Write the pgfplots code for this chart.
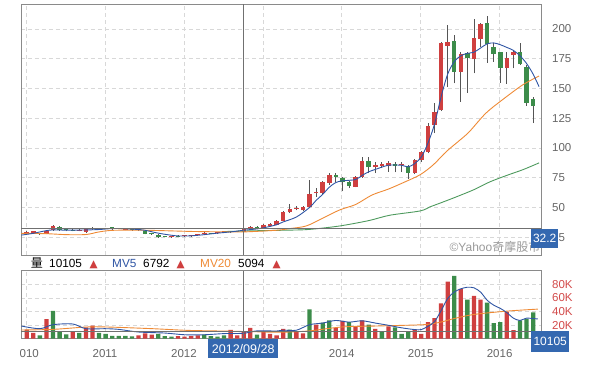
\documentclass[border=0pt]{standalone}
\usepackage{pgfplots}
\pgfplotsset{compat=1.18}
\usepackage{pgfplotstable}
\usepackage{fontspec}
\setmainfont{Liberation Sans}
\newfontfamily\cjk{Noto Sans CJK TC}
\newfontfamily\sym{DejaVu Sans}
\definecolor{upred}{HTML}{CF3F3F}
\definecolor{dngreen}{HTML}{3C8C4A}
\definecolor{wickc}{HTML}{555555}
\definecolor{mablue}{HTML}{2F55A4}
\definecolor{maorange}{HTML}{EE8A35}
\definecolor{magreen}{HTML}{4E9A5E}
\definecolor{gridc}{HTML}{D8D8D8}
\definecolor{framec}{HTML}{8A8A8A}
\definecolor{tickc}{HTML}{666666}
\definecolor{voltick}{HTML}{D24A4A}
\definecolor{boxblue}{HTML}{3468B0}
\definecolor{crossc}{HTML}{707070}

% monthly candles, red = up (close > open)
\pgfplotstableread{
i o h l c
0 28.6 30.0 28.0 29.4
1 28.5 30.5 28.0 30.0
3 27.8 31.0 27.5 30.5
4 31.0 35.0 30.5 34.2
8 30.5 31.8 30.0 30.9
9 29.4 32.5 29.0 32.0
10 31.7 33.5 31.0 32.3
11 31.8 32.6 31.2 32.1
12 32.2 33.0 31.8 32.5
14 32.3 33.0 31.8 32.6
15 31.0 32.5 30.8 32.0
22 24.8 26.3 24.5 25.8
24 25.9 27.0 25.0 26.2
25 26.0 26.8 25.5 26.4
26 26.6 27.8 26.2 27.5
27 27.8 29.3 27.0 28.3
29 28.4 29.5 28.0 28.9
30 29.0 29.8 28.5 29.3
31 29.3 30.0 28.8 29.7
32 29.6 30.5 29.2 30.0
33 29.7 32.8 29.3 32.2
34 32.8 34.7 32.0 33.2
36 33.1 35.8 32.8 35.3
37 34.7 36.8 34.3 36.2
38 35.3 39.5 35.0 39.0
39 39.0 47.0 38.5 46.5
40 46.0 53.0 45.2 48.8
41 48.8 51.3 47.5 49.9
42 47.9 51.5 47.0 50.7
43 50.2 73.2 49.5 61.1
44 62.0 66.2 59.1 63.3
45 62.5 72.5 61.5 71.7
46 70.9 79.3 69.0 77.4
50 67.5 76.5 67.0 75.9
51 75.4 92.7 75.0 89.1
53 83.8 88.5 78.8 85.8
54 84.9 88.5 83.0 86.3
55 85.2 89.0 80.0 87.2
57 85.5 88.0 80.0 86.0
59 78.8 90.5 78.0 90.0
60 90.0 97.5 88.5 96.9
61 96.9 120.8 95.5 118.5
62 119.4 137.6 112.4 130.6
63 132.0 189.4 131.0 188.0
64 185.8 203.4 151.6 189.4
66 164.2 181.0 139.0 178.8
68 174.6 208.2 162.8 192.2
69 191.4 204.8 185.2 204.2
73 167.5 181.0 153.8 175.9
74 178.2 182.4 167.0 180.4
}\upc

\pgfplotstableread{
i o h l c
2 27.8 28.3 26.8 27.5
5 33.8 34.5 30.5 30.8
6 31.5 32.0 30.0 30.7
7 31.3 32.0 30.0 30.5
13 32.6 33.5 31.5 32.4
16 31.3 31.8 30.5 31.0
17 31.1 31.8 30.4 30.7
18 30.4 31.0 27.5 27.8
19 27.9 28.4 27.0 27.4
20 27.0 27.6 24.5 24.8
21 25.8 26.4 24.8 25.2
23 25.8 26.5 25.2 25.5
28 28.4 29.0 27.8 28.1
35 33.2 34.5 32.3 33.0
47 77.4 79.3 71.7 75.4
48 75.1 75.9 63.5 71.2
49 71.7 72.0 66.2 68.4
52 89.1 92.2 78.8 83.8
56 86.3 88.5 79.6 85.2
58 84.9 85.5 74.0 78.8
65 190.0 195.0 154.4 164.2
67 180.1 181.0 146.5 175.9
70 204.8 211.0 171.7 187.2
71 185.2 188.0 172.6 178.8
72 180.4 181.0 154.9 167.5
75 180.4 188.5 169.8 170.4
76 167.8 169.8 135.3 138.1
77 141.2 142.6 120.8 135.3
}\dnc

% volume (thousands)
\pgfplotstableread{
i v
0 13.4
1 8.6
3 28.8
7 11
9 16.8
10 19.2
17 4.8
18 8
19 6
23 3.8
24 2.9
25 3.8
26 4.8
31 13
32 4.8
33 10.1
34 15.8
36 11
37 7
38 4.8
39 14.4
41 11
42 8
44 20.6
47 15.9
48 26.3
50 18.2
51 26.8
53 14.4
55 18.2
59 13.4
60 7.2
61 24.4
62 30.2
63 51.8
64 84
66 73.3
68 62.8
69 57.5
73 39.8
74 12.5
}\volup

\pgfplotstableread{
i v
2 4.8
4 40.8
5 11
6 6.2
8 8.6
11 8.6
12 7.2
13 4.3
14 4.3
15 4.3
16 3.4
20 7.2
21 3.8
22 2.9
27 6
28 3.8
29 2.9
30 4.8
35 6
40 13.4
43 43.2
45 23.8
46 26.8
49 24.4
52 20.6
54 10.1
56 16.8
57 7.2
58 11
65 92.5
67 57.5
70 53.2
71 23
72 24.4
75 26.8
76 29.2
77 38.8
}\voldn

\pgfplotsset{
  basechart/.style={
    scale only axis, width=520.7pt,
    xmin=-0.87, xmax=78.3,
    xtick={-0.1,11.9,23.9,35.9,47.9,59.9,71.9},
    major tick length=0pt,
    axis line style={framec, line width=0.8pt},
    grid=major,
    grid style={gridc, dash pattern=on 4pt off 3pt, line width=0.6pt},
    yticklabel pos=right,
    tick label style={font=\fontsize{11.5}{13}\selectfont, text=tickc},
    yticklabel style={anchor=west, inner sep=0pt, xshift=10.3pt},
    /pgf/number format/assume math mode=true,
  },
  wick/.style={draw=none, mark=none, forget plot,
    error bars/.cd, y dir=plus, y explicit, error mark=none,
    error bar style={draw=wickc, line width=0.8pt}},
  body/.style={draw=none, mark=none, forget plot,
    error bars/.cd, y dir=plus, y explicit, error mark=none,
    error bar style={draw=#1, line width=4.5pt}},
}

\begin{document}
\begin{tikzpicture}
\useasboundingbox (0pt,0pt) rectangle (590pt,385pt);

% ---------------- price panel ----------------
\begin{axis}[basechart,
  at={(21pt,130pt)}, anchor=south west, height=251pt,
  ymin=10.1, ymax=221,
  ytick={25,50,...,200},
  xticklabels={,,,,,,},
]
\addplot[wick] table[x=i, y=l, y error plus expr=\thisrow{h}-\thisrow{l}] {\upc};
\addplot[wick] table[x=i, y=l, y error plus expr=\thisrow{h}-\thisrow{l}] {\dnc};
\addplot[body=upred] table[x=i, y=o, y error plus expr={max(\thisrow{c}-\thisrow{o},0.9)}] {\upc};
\addplot[body=dngreen] table[x=i, y=c, y error plus expr={max(\thisrow{o}-\thisrow{c},0.9)}] {\dnc};

% MA lines
\addplot[magreen, line width=0.9pt, smooth, mark=none] coordinates {
(30,29.8) (35,30.5) (40,31) (43,31.6) (47.6,34.5) (52,39) (55.2,43.5) (59.8,47.1) (61.3,50.5) (63,54) (65.3,58.9) (68,65) (70.4,71.5) (73,77) (75.5,81.9) (77.9,87.5)};
\addplot[maorange, line width=0.9pt, smooth, mark=none] coordinates {
(-0.8,28.3) (3,28) (6,27.2) (9,27.3) (11,29.5) (13,30.8) (17,31) (21,30.5) (25,29.9) (29,29.6) (33,29.5) (38,30.9) (40,32.3) (42.5,34.5) (45,41) (47.6,48) (50,52.5) (52.5,60.5) (55,65.5) (57.5,71.5) (59.8,77.5) (61.8,85.8) (63.8,97) (65.9,106.8) (67.3,113.7) (69.8,129.2) (72.3,140.4) (75.4,153) (77.9,160.5)};
\addplot[mablue, line width=0.9pt, smooth, mark=none] coordinates {
(-0.8,26.8) (1,28.3) (3.5,31) (6,31) (8.6,31.1) (11,31.5) (13,32.3) (15,32.2) (17.8,31) (19.5,29) (21,27.5) (23,26.1) (25,26.2) (27,27.2) (28.9,28.4) (31,29.5) (33,30.9) (35,32) (36,32.9) (38,35.5) (39,37.9) (41,42) (43,50) (44,56) (45,61) (46,67) (47,71) (48,72.4) (50,73.5) (51,77) (52,80) (53,82) (55,85.5) (57,85.5) (58,84.1) (59,87) (60,92.5) (61,104) (62,120) (63,143) (64,162) (65,172.5) (66,177.5) (67,179.5) (68,180.5) (69,184) (70,187.5) (71,188.3) (72,186.8) (73,184.5) (74,182) (75,177.5) (76,171) (77,162) (77.9,151.5)};

% crosshair
\addplot[crossc, line width=0.8pt, mark=none] coordinates {(33,10.1) (33,221)};
\addplot[crossc, line width=0.8pt, mark=none] coordinates {(-0.87,32.2) (78.3,32.2)};
\end{axis}

% ---------------- volume panel ----------------
\begin{axis}[basechart,
  at={(21pt,46.3pt)}, anchor=south west, height=68pt,
  ymin=0, ymax=100,
  ytick={20,40,60,80}, yticklabels={20K,40K,60K,80K},
  yticklabel style={text=voltick},
  xticklabels={2010,2011,2012,2013,2014,2015,2016},
  xticklabel style={anchor=base, inner sep=0pt, yshift=-18.6pt},
]
\addplot[ybar, bar width=4.3pt, bar shift=0pt, fill=upred, draw=none] table[x=i, y=v] {\volup};
\addplot[ybar, bar width=4.3pt, bar shift=0pt, fill=dngreen, draw=none] table[x=i, y=v] {\voldn};
\addplot[maorange, line width=0.9pt, smooth, mark=none] coordinates {
(-0.8,12.8) (4,13.7) (9.1,17.2) (12.2,17.2) (19.2,14.7) (24.3,12.3) (29.4,11.3) (34.4,10.3) (38.5,9.5) (42.8,11.3) (47.9,17.2) (52.9,18.6) (59,20.1) (61,21.1) (63,24.5) (65.1,29.9) (68.1,35.8) (73.2,40.7) (77.7,43.5)};
\addplot[mablue, line width=0.9pt, smooth, mark=none] coordinates {
(-0.8,18.6) (2,14.7) (4,20.6) (7,21.6) (9,14.7) (12,14.7) (14,13.7) (17,9.8) (21,8.3) (24,5.8) (27,5.8) (30,7.5) (33,8) (35,11.5) (38,11.3) (39,12.5) (41,12.5) (43,20.6) (45,23) (47,26.8) (49,24.4) (51,26.3) (53,23) (55,19.7) (57,16) (59,13.4) (60,13.4) (61,18.2) (62,25) (63,41.2) (64,59) (65,68.6) (66,73.3) (67,75.7) (68,74.8) (69,68.6) (70,56.6) (71,49.4) (72,44.6) (73,38.4) (74,30.2) (75,26.8) (76,30.2) (77.7,29)};
\addplot[crossc, line width=0.8pt, mark=none] coordinates {(33,0) (33,100)};
\addplot[crossc, line width=0.8pt, mark=none] coordinates {(-0.87,10.105) (78.3,10.105)};
\end{axis}

% hide the part of the first year label that falls left of the frame
\fill[white] (0pt,20pt) rectangle (20.4pt,44pt);

% legend line of the volume panel
\node[anchor=base west, inner sep=0pt] at (30.7pt,117.3pt) {\cjk\fontsize{12}{14}\selectfont 量};
\node[anchor=base west, inner sep=0pt] at (49pt,117.3pt) {\fontsize{11.8}{14}\selectfont 10105};
\node[anchor=base west, inner sep=0pt, text=upred] at (89.5pt,117.3pt) {\sym\fontsize{10.5}{14}\selectfont ▲};
\node[anchor=base west, inner sep=0pt, text=mablue] at (112pt,117.3pt) {\fontsize{11.8}{14}\selectfont MV5};
\node[anchor=base west, inner sep=0pt] at (143pt,117.3pt) {\fontsize{11.8}{14}\selectfont 6792};
\node[anchor=base west, inner sep=0pt, text=upred] at (176.5pt,117.3pt) {\sym\fontsize{10.5}{14}\selectfont ▲};
\node[anchor=base west, inner sep=0pt, text=maorange] at (200pt,117.3pt) {\fontsize{11.8}{14}\selectfont MV20};
\node[anchor=base west, inner sep=0pt] at (238pt,117.3pt) {\fontsize{11.8}{14}\selectfont 5094};
\node[anchor=base west, inner sep=0pt, text=upred] at (272.5pt,117.3pt) {\sym\fontsize{10.5}{14}\selectfont ▲};

% watermark
\node[anchor=base east, inner sep=0pt, text=black!40] at (540.5pt,133.5pt) {\fontsize{12}{14}\selectfont ©Yahoo{\cjk 奇摩股市}};

% value / date boxes
\node[anchor=north west, fill=boxblue, text=white, inner sep=0pt, minimum width=27pt, minimum height=19pt] at (531pt,156.3pt) {\fontsize{12}{14}\selectfont 32.2};
\node[anchor=north west, fill=boxblue, text=white, inner sep=0pt, minimum width=38pt, minimum height=21pt] at (531pt,54.3pt) {\fontsize{12}{14}\selectfont 10105};
\node[anchor=north west, fill=boxblue, text=white, inner sep=0pt, minimum width=70pt, minimum height=19pt] at (208pt,46pt) {\fontsize{12.5}{14}\selectfont 2012/09/28};
\end{tikzpicture}
\end{document}
